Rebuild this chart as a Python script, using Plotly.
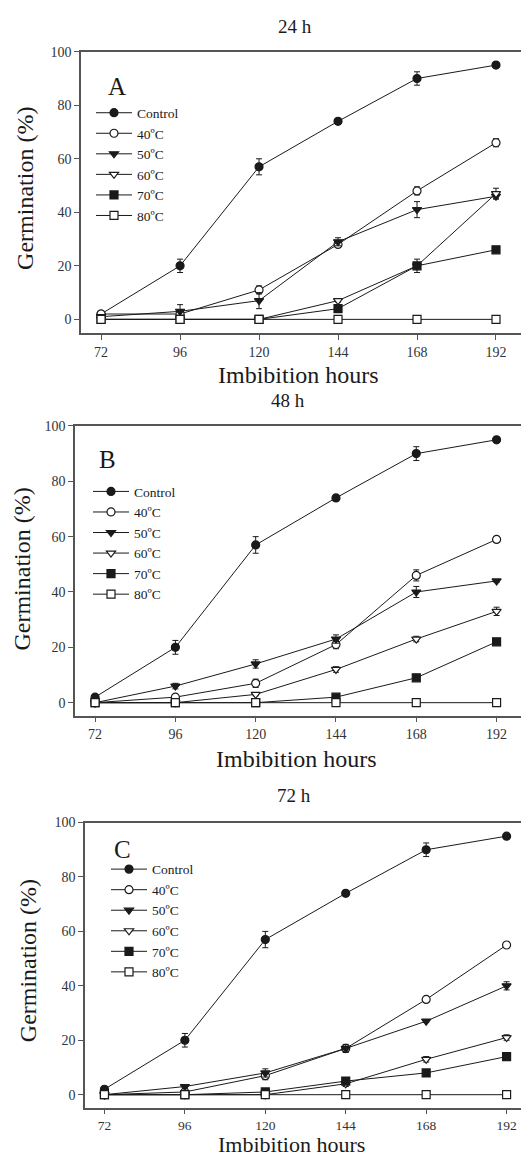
import plotly.graph_objects as go

hours = [72, 96, 120, 144, 168, 192]
series_names = ["Control", "40ºC", "50ºC", "60ºC", "70ºC", "80ºC"]
panel_titles = ["24 h", "48 h", "72 h"]
panel_letters = ["A", "B", "C"]
y_ticks = [0, 20, 40, 60, 80, 100]

# Panel A (24 h)
a_control = [2, 20, 57, 74, 90, 95]
a_40 = [2, 2, 11, 28, 48, 66]
a_50 = [1, 3, 7, 29, 41, 46]
a_60 = [0, 0, 0, 7, 20, 47]
a_70 = [0, 0, 0, 4, 20, 26]
a_80 = [0, 0, 0, 0, 0, 0]
a_control_err = [0.5, 2.5, 3, 1, 2.5, 0.5]
a_40_err = [0.5, 0.5, 1.5, 1, 1.5, 1.5]
a_50_err = [0.5, 2.5, 3, 1.5, 3, 1]
a_60_err = [0, 0, 0, 0.5, 1, 2]
a_70_err = [0, 0, 0, 0.5, 2.5, 1]
a_80_err = [0, 0, 0, 0, 0, 0]

# Panel B (48 h)
b_control = [2, 20, 57, 74, 90, 95]
b_40 = [0, 2, 7, 21, 46, 59]
b_50 = [0, 6, 14, 23, 40, 44]
b_60 = [0, 0, 3, 12, 23, 33]
b_70 = [0, 0, 0, 2, 9, 22]
b_80 = [0, 0, 0, 0, 0, 0]
b_control_err = [0.5, 2.5, 3, 1, 2.5, 0.5]
b_40_err = [0, 0.5, 1.5, 1.5, 2, 1]
b_50_err = [0, 1, 1.5, 1.5, 2, 0.5]
b_60_err = [0, 0, 0.5, 1, 1, 1.5]
b_70_err = [0, 0, 0, 0.5, 0.5, 1]
b_80_err = [0, 0, 0, 0, 0, 0]

# Panel C (72 h)
c_control = [2, 20, 57, 74, 90, 95]
c_40 = [0, 1, 7, 17, 35, 55]
c_50 = [0, 3, 8, 17, 27, 40]
c_60 = [0, 0, 0, 4, 13, 21]
c_70 = [0, 0, 1, 5, 8, 14]
c_80 = [0, 0, 0, 0, 0, 0]
c_control_err = [0.5, 2.5, 3, 1, 2.5, 0.5]
c_40_err = [0, 0.5, 1.5, 1, 0.5, 0.5]
c_50_err = [0, 0.5, 1.5, 1.5, 0.5, 1.5]
c_60_err = [0, 0, 0, 1, 1, 1]
c_70_err = [0, 0, 0.5, 0.5, 0.5, 1]
c_80_err = [0, 0, 0, 0, 0, 0]

panels_values = [
    [a_control, a_40, a_50, a_60, a_70, a_80],
    [b_control, b_40, b_50, b_60, b_70, b_80],
    [c_control, c_40, c_50, c_60, c_70, c_80],
]
panels_errors = [
    [a_control_err, a_40_err, a_50_err, a_60_err, a_70_err, a_80_err],
    [b_control_err, b_40_err, b_50_err, b_60_err, b_70_err, b_80_err],
    [c_control_err, c_40_err, c_50_err, c_60_err, c_70_err, c_80_err],
]

# ---- styling / layout (pixel geometry) ----
W, H = 521, 1158
FONT = "Liberation Serif, Times New Roman, serif"
INK = "#1a1a1a"
AXIS = "#555555"
symbols = ["circle", "circle", "triangle-down", "triangle-down", "square", "square"]
fills = [INK, "white", INK, "white", INK, "white"]

geom = [
    dict(left=81, top=45, bottom=328, xr=[65.9, 199.6], yr=[-5.1, 100], ticklen=5, xtsize=24, tfs=14,
         title=(295, 20), xt=(298, 370), yt=(25, 183), letter=(117, 80), leg=(91, 91)),
    dict(left=75, top=421.5, bottom=713, xr=[66.0, 199.3], yr=[-4.7, 100], ticklen=5, xtsize=24, tfs=14,
         title=(288, 396), xt=(296, 757), yt=(22, 566), letter=(107, 455), leg=(88, 472)),
    dict(left=85, top=820.5, bottom=1108, xr=[66.2, 196.3], yr=[-5.0, 100], ticklen=4, xtsize=22, tfs=13.5,
         title=(294, 793), xt=(291, 1144), yt=(28, 960), letter=(122, 848), leg=(106, 852)),
]

def px(x):
    return x / W

def py(y):
    return 1 - y / H

fig = go.Figure()
layout = dict(
    width=W, height=H, margin=dict(l=0, r=0, t=0, b=0),
    plot_bgcolor="white", paper_bgcolor="white",
    font=dict(family=FONT, color=INK), showlegend=True,
    annotations=[],
)

for p in range(3):
    g = geom[p]
    sfx = "" if p == 0 else str(p + 1)
    legname = "legend" + sfx
    for s in range(6):
        fig.add_trace(go.Scatter(
            x=hours, y=panels_values[p][s],
            mode="lines+markers",
            name=series_names[s],
            legend=legname,
            xaxis="x" + sfx, yaxis="y" + sfx,
            line=dict(color=INK, width=1),
            marker=dict(symbol=symbols[s], size=8,
                        color=fills[s], line=dict(color=INK, width=1.2)),
            error_y=dict(type="data", array=panels_errors[p][s], visible=True,
                         color=INK, thickness=1, width=3),
        ))
    layout["xaxis" + sfx] = dict(
        domain=[px(g["left"]), 1], range=g["xr"], anchor="y" + sfx,
        tickvals=hours, ticks="outside", ticklen=g["ticklen"], tickcolor=AXIS, tickwidth=1,
        showline=True, linecolor=AXIS, linewidth=1.5, mirror=True,
        showgrid=False, zeroline=False,
        tickfont=dict(family=FONT, size=g["tfs"], color="#333333"),
    )
    layout["yaxis" + sfx] = dict(
        domain=[py(g["bottom"]), py(g["top"])], range=g["yr"], anchor="x" + sfx,
        tickvals=y_ticks, ticks="outside", ticklen=5, tickcolor=AXIS, tickwidth=1,
        showline=True, linecolor=AXIS, linewidth=1.5,
        showgrid=False, zeroline=False,
        tickfont=dict(family=FONT, size=14, color="#333333"),
    )
    layout[legname] = dict(
        x=px(g["leg"][0]), y=py(g["leg"][1]), xanchor="left", yanchor="top",
        bgcolor="rgba(0,0,0,0)", borderwidth=0,
        font=dict(family=FONT, size=13.5, color=INK),
        tracegroupgap=0, itemwidth=36,
    )
    common = dict(xref="paper", yref="paper", showarrow=False,
                  xanchor="center", yanchor="middle")
    layout["annotations"] += [
        dict(text=panel_titles[p], x=px(g["title"][0]), y=py(g["title"][1]),
             font=dict(family=FONT, size=19, color=INK), **common),
        dict(text="Imbibition hours", x=px(g["xt"][0]), y=py(g["xt"][1]),
             font=dict(family=FONT, size=g["xtsize"], color=INK), **common),
        dict(text="Germination (%)", x=px(g["yt"][0]), y=py(g["yt"][1]), textangle=-90,
             font=dict(family=FONT, size=24, color=INK), **common),
        dict(text=panel_letters[p], x=px(g["letter"][0]), y=py(g["letter"][1]),
             font=dict(family=FONT, size=25, color=INK), **common),
    ]

fig.update_layout(**layout)
fig.write_html(
    "out.html",
    config={"displayModeBar": False},
    post_script=(
        "document.body.style.margin='0';document.body.style.overflow='hidden';"
        "var d=document.getElementById('{plot_id}');"
        "d.style.position='fixed';d.style.top='0px';d.style.left='0px';"
    ),
)
